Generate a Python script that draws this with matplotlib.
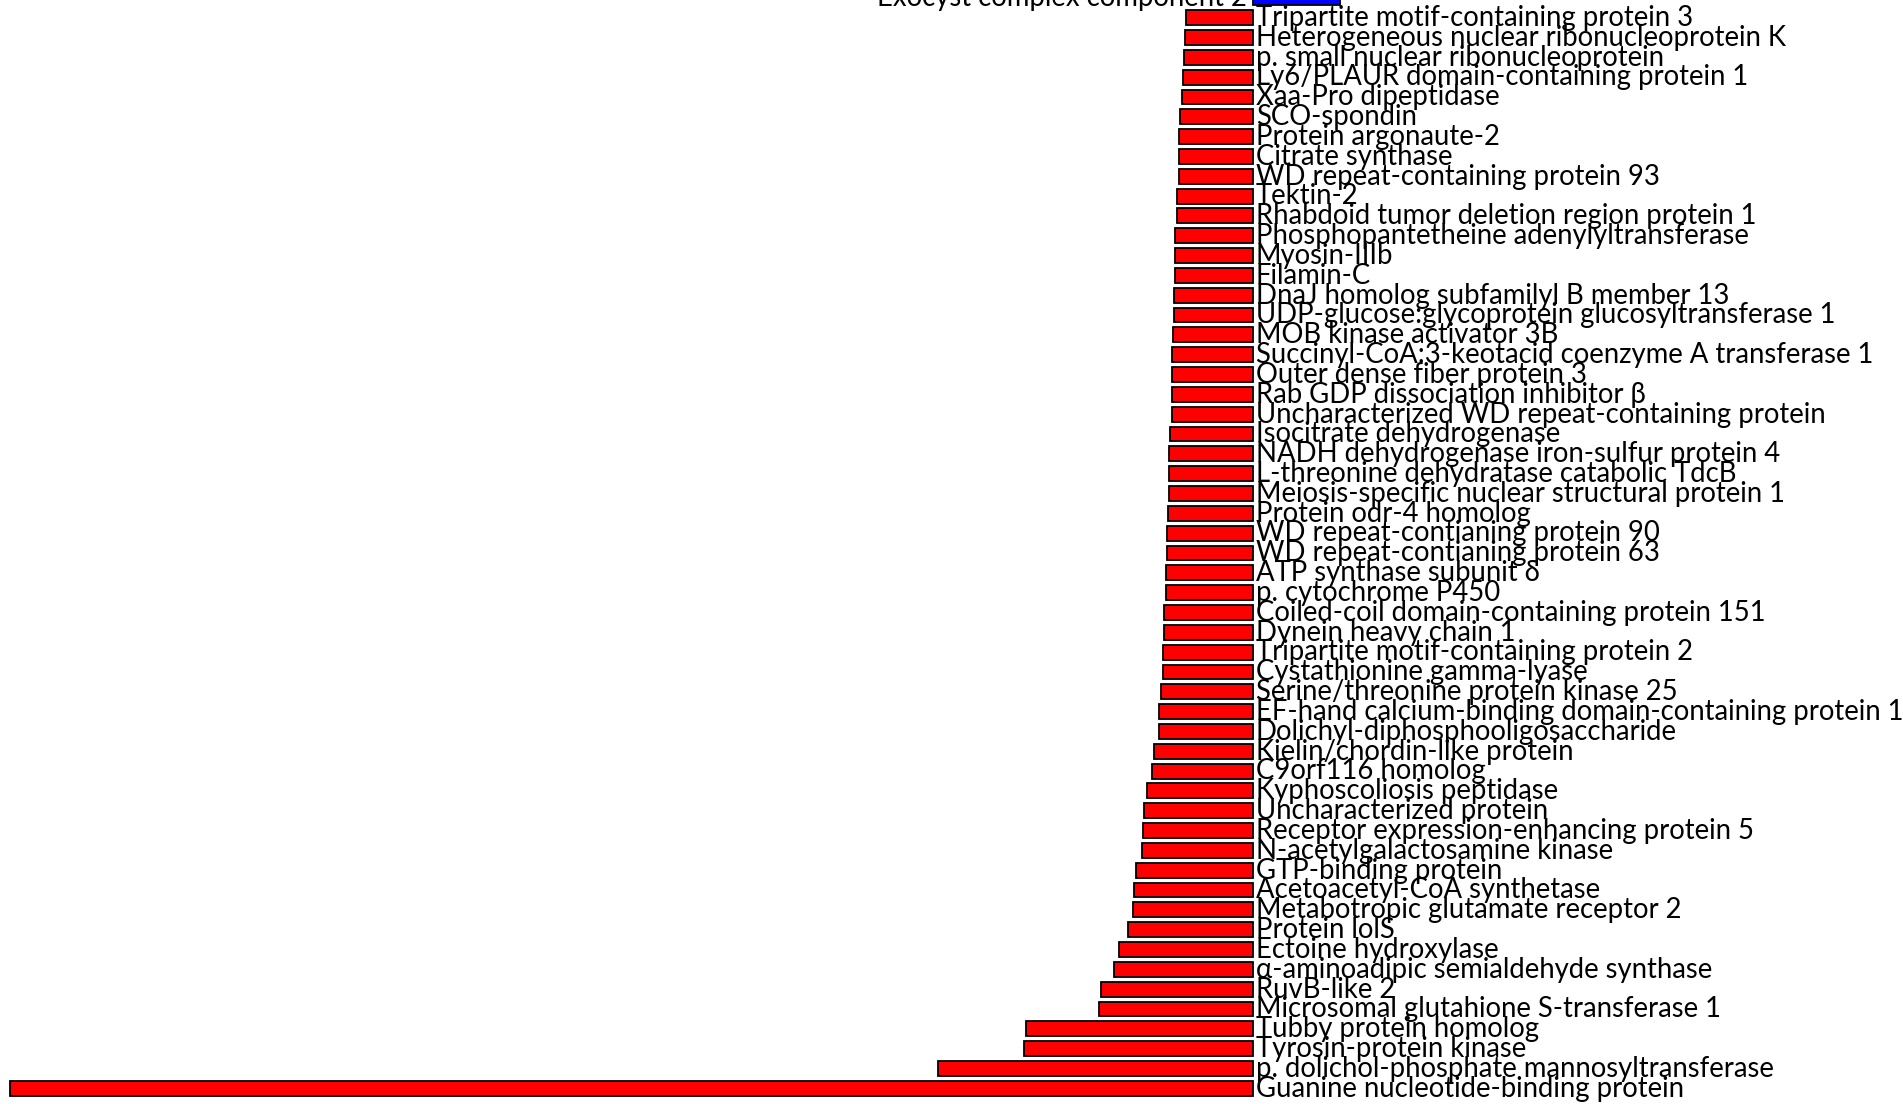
import numpy as np
import matplotlib.pyplot as plt

# protein names (top -> bottom)
proteins = [
    "Exocyst complex component 2",
    "Tripartite motif-containing protein 3",
    "Heterogeneous nuclear ribonucleoprotein K",
    "p. small nuclear ribonucleoprotein",
    "Ly6/PLAUR domain-containing protein 1",
    "Xaa-Pro dipeptidase",
    "SCO-spondin",
    "Protein argonaute-2",
    "Citrate synthase",
    "WD repeat-containing protein 93",
    "Tektin-2",
    "Rhabdoid tumor deletion region protein 1",
    "Phosphopantetheine adenylyltransferase",
    "Myosin-IIIb",
    "Filamin-C",
    "DnaJ homolog subfamilyl B member 13",
    "UDP-glucose:glycoprotein glucosyltransferase 1",
    "MOB kinase activator 3B",
    "Succinyl-CoA:3-keotacid coenzyme A transferase 1",
    "Outer dense fiber protein 3",
    "Rab GDP dissociation inhibitor β",
    "Uncharacterized WD repeat-containing protein",
    "Isocitrate dehydrogenase",
    "NADH dehydrogenase iron-sulfur protein 4",
    "L-threonine dehydratase catabolic TdcB",
    "Meiosis-specific nuclear structural protein 1",
    "Protein odr-4 homolog",
    "WD repeat-contianing protein 90",
    "WD repeat-contianing protein 63",
    "ATP synthase subunit δ",
    "p. cytochrome P450",
    "Coiled-coil domain-containing protein 151",
    "Dynein heavy chain 1",
    "Tripartite motif-containing protein 2",
    "Cystathionine gamma-lyase",
    "Serine/threonine protein kinase 25",
    "EF-hand calcium-binding domain-containing protein 1",
    "Dolichyl-diphosphooligosaccharide",
    "Kielin/chordin-like protein",
    "C9orf116 homolog",
    "Kyphoscoliosis peptidase",
    "Uncharacterized protein",
    "Receptor expression-enhancing protein 5",
    "N-acetylgalactosamine kinase",
    "GTP-binding protein",
    "Acetoacetyl-CoA synthetase",
    "Metabotropic glutamate receptor 2",
    "Protein lolS",
    "Ectoine hydroxylase",
    "α-aminoadipic semialdehyde synthase",
    "RuvB-like 2",
    "Microsomal glutahione S-transferase 1",
    "Tubby protein homolog",
    "Tyrosin-protein kinase",
    "p. dolichol-phosphate mannosyltransferase",
    "Guanine nucleotide-binding protein",
]

# values (no axis, arbitrary units)
values = [
    0.87,
    -0.67, -0.68, -0.69, -0.70, -0.71, -0.73, -0.74, -0.74, -0.74, -0.76,
    -0.76, -0.78, -0.78, -0.78, -0.79, -0.79, -0.80, -0.81, -0.81, -0.81,
    -0.81, -0.83, -0.84, -0.84, -0.84, -0.85, -0.86, -0.86, -0.87, -0.87,
    -0.89, -0.89, -0.90, -0.90, -0.92, -0.94, -0.94, -0.99, -1.01, -1.06,
    -1.09, -1.10, -1.11, -1.17, -1.19, -1.20, -1.25, -1.34, -1.39, -1.52,
    -1.54, -2.27, -2.29, -3.15, -12.43,
]

vals = np.array(values)
ypos = np.arange(len(proteins))
colors = ['blue' if v > 0 else 'red' for v in vals]

fig = plt.figure(figsize=(19.03, 11.04), dpi=100)
ax = fig.add_axes([0, 0, 1, 1])

ax.barh(ypos, vals, height=0.75, color=colors, edgecolor='black', linewidth=1.3)

# labels next to the zero line
for y, v, name in zip(ypos, vals, proteins):
    if v < 0:
        ax.annotate(name, (0, y + 0.42), xytext=(3, 0), textcoords='offset pixels',
                    ha='left', va='baseline', fontsize=19.8, family='Lato')
    else:
        ax.annotate(name, (0, y + 0.42), xytext=(-6, 0), textcoords='offset pixels',
                    ha='right', va='baseline', fontsize=19.8, family='Lato')

ax.set_xlim(-12.53, 6.50)
ax.set_ylim(55.79, 0.11)
ax.axis('off')

fig.savefig('out.png', dpi=100)
